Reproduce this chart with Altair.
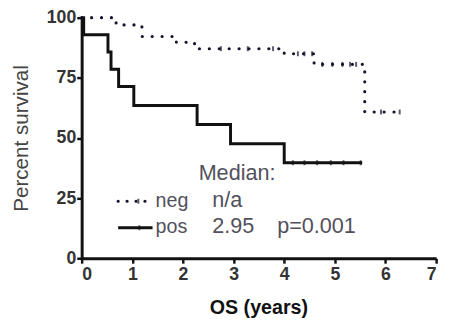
import altair as alt
import pandas as pd

# Kaplan-Meier step points (years, percent survival)
pos_t = [0.0, 0.04, 0.52, 0.58, 0.73, 1.03, 2.28, 2.94, 4.00, 5.54]
pos_s = [100.0, 92.9, 85.7, 78.6, 71.4, 63.5, 55.6, 47.6, 39.7, 39.7]
neg_t = [0.0, 0.68, 1.19, 1.87, 2.23, 4.00, 4.59, 5.59, 6.29]
neg_s = [100.0, 97.0, 92.2, 89.8, 87.1, 85.0, 80.6, 60.8, 60.8]

# censored observations
pos_cens_t = [4.17, 4.40, 4.65, 4.92, 5.17, 5.51]
pos_cens_s = [39.7] * 6
neg_cens_t = [2.75, 3.28, 3.78, 4.27, 4.40, 4.55, 4.75, 4.95, 5.15, 5.30, 5.42, 5.91, 6.28]
neg_cens_s = [87.1, 87.1, 87.1, 85.0, 85.0, 85.0, 80.6, 80.6, 80.6, 80.6, 80.6, 60.8, 60.8]

x_ticks = [0, 1, 2, 3, 4, 5, 6, 7]
y_ticks = [0, 25, 50, 75, 100]

# legend / annotation content (placed in data units)
leg_names = ["neg", "pos"]
leg_medians = ["n/a", "2.95"]
leg_y = [23.7, 12.7]
leg_label_y = [21.2, 10.6]
leg_value_y = [21.2, 10.6]
median_title = "Median:"
p_text = "p=0.001"

FONT = "Liberation Sans"
LINE_COLOR = "#111111"
DOT_COLOR = "#1c1230"
TEXT_GRAY = "#52505c"

xs = alt.Scale(domain=[0, 7], nice=False, zero=False)
ys = alt.Scale(domain=[0, 100], nice=False, zero=False)

x_axis = alt.Axis(values=x_ticks, format="d", title="OS (years)", grid=False,
                  titleX=180, titleY=56, titleBaseline="alphabetic")
y_axis = alt.Axis(values=y_ticks, format="d", title="Percent survival", grid=False,
                  titleX=-55, titleBaseline="alphabetic")

pos_df = pd.DataFrame({"t": pos_t, "s": pos_s})
neg_df = pd.DataFrame({"t": neg_t, "s": neg_s})

pos_line = alt.Chart(pos_df).mark_line(
    interpolate="step-after", color=LINE_COLOR, strokeWidth=3
).encode(x=alt.X("t:Q", scale=xs, axis=x_axis), y=alt.Y("s:Q", scale=ys, axis=y_axis))

neg_line = alt.Chart(neg_df).mark_line(
    interpolate="step-after", color=DOT_COLOR, strokeWidth=3.2,
    strokeDash=[0.1, 10], strokeCap="round"
).encode(x=alt.X("t:Q", scale=xs), y=alt.Y("s:Q", scale=ys))

pos_c = alt.Chart(pd.DataFrame({"t": pos_cens_t, "s": pos_cens_s})).mark_tick(
    orient="vertical", size=5, thickness=2, color=LINE_COLOR
).encode(x=alt.X("t:Q", scale=xs), y=alt.Y("s:Q", scale=ys))

neg_c = alt.Chart(pd.DataFrame({"t": neg_cens_t, "s": neg_cens_s})).mark_tick(
    orient="vertical", size=5, thickness=2, color=DOT_COLOR
).encode(x=alt.X("t:Q", scale=xs), y=alt.Y("s:Q", scale=ys))

# legend symbols
leg_df = pd.DataFrame({
    "name": leg_names, "x0": [0.72, 0.72], "x1": [1.40, 1.40], "y": leg_y,
    "xm": [1.12, 1.14],
    "ly": leg_label_y, "lx": [1.46, 1.46],
    "med": leg_medians, "vx": [2.58, 2.58], "vy": leg_value_y,
})
leg_neg = alt.Chart(leg_df[leg_df.name == "neg"]).mark_rule(
    color=DOT_COLOR, strokeWidth=3.2, strokeDash=[0.1, 9], strokeCap="round"
).encode(x=alt.X("x0:Q", scale=xs), x2="x1:Q", y=alt.Y("y:Q", scale=ys))
leg_pos = alt.Chart(leg_df[leg_df.name == "pos"]).mark_rule(
    color=LINE_COLOR, strokeWidth=3
).encode(x=alt.X("x0:Q", scale=xs), x2="x1:Q", y=alt.Y("y:Q", scale=ys))
leg_ticks = alt.Chart(leg_df).mark_tick(
    orient="vertical", size=5, thickness=2, color=LINE_COLOR
).encode(x=alt.X("xm:Q", scale=xs), y=alt.Y("y:Q", scale=ys))

leg_names_txt = alt.Chart(leg_df).mark_text(
    align="left", baseline="alphabetic", font=FONT, fontSize=20, color=TEXT_GRAY
).encode(x=alt.X("lx:Q", scale=xs), y=alt.Y("ly:Q", scale=ys), text="name:N")

leg_vals_txt = alt.Chart(leg_df).mark_text(
    align="left", baseline="alphabetic", font=FONT, fontSize=22, color=TEXT_GRAY
).encode(x=alt.X("vx:Q", scale=xs), y=alt.Y("vy:Q", scale=ys), text="med:N")

extra_df = pd.DataFrame({"x": [2.31, 3.86], "y": [32.6, 10.6], "txt": [median_title, p_text]})
extra_txt = alt.Chart(extra_df).mark_text(
    align="left", baseline="alphabetic", font=FONT, fontSize=22, color=TEXT_GRAY
).encode(x=alt.X("x:Q", scale=xs), y=alt.Y("y:Q", scale=ys), text="txt:N")

chart = alt.layer(
    neg_line, pos_line, neg_c, pos_c, leg_neg, leg_pos, leg_ticks,
    leg_names_txt, leg_vals_txt, extra_txt
).properties(
    width=361, height=245,
    autosize=alt.AutoSizeParams(type="none"),
    padding={"left": 75, "top": 7, "right": 8, "bottom": 60},
    background="white",
).configure_view(stroke=None).configure_axis(
    domainColor=LINE_COLOR, domainWidth=3, tickColor=LINE_COLOR, tickWidth=2.5,
    tickSize=5, labelFont=FONT, labelFontWeight="bold", labelFontSize=18,
    labelColor="#333333", titleFont=FONT, labelPadding=1,
).configure_axisX(
    titleFontSize=20, titleFontWeight="bold", titleColor="#111111", labelPadding=3,
).configure_axisY(
    titleFontSize=21, titleFontWeight="normal", titleColor="#444444",
)

chart.save("out.html", embed_options={"renderer": "svg", "actions": False})
